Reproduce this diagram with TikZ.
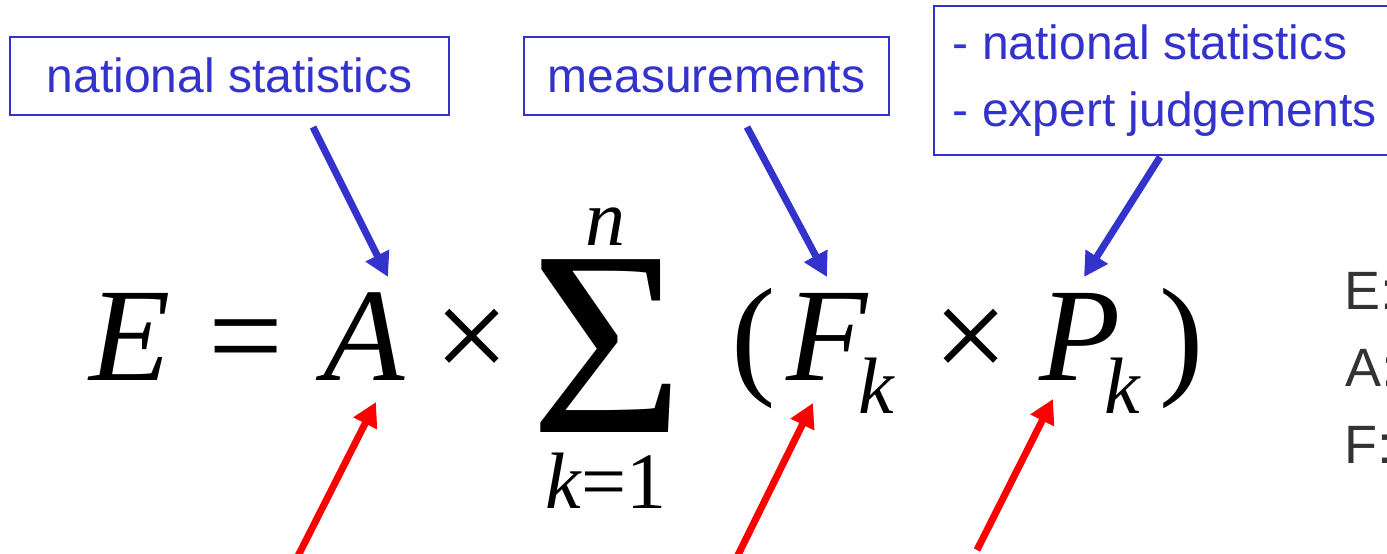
\documentclass[tikz,border=0pt]{standalone}
\usepackage{fontspec}
\setmainfont{Liberation Serif}
\newfontfamily\arialfont{Liberation Sans}
\usetikzlibrary{arrows.meta}
\definecolor{myblue}{HTML}{3333CC}
\definecolor{myred}{HTML}{FF0000}
\definecolor{mygray}{HTML}{333333}
\newcommand{\fsz}[1]{\fontsize{#1}{#1}\selectfont}
\tikzset{
  eq/.style={inner sep=0pt, font=\fsz{133}},
  sub/.style={inner sep=0pt, font=\fsz{80}},
  srcbox/.style={draw=myblue, line width=1.8pt, inner sep=0pt, text=myblue,
     font=\arialfont\fsz{48}, text height=34pt, text depth=0pt},
  bluearrow/.style={draw=myblue, line width=7pt, -{Triangle[length=24pt,width=25pt]}},
  redarrow/.style={draw=myred, line width=7pt, -{Triangle[length=24pt,width=25pt]}},
  legend/.style={inner sep=0pt, text=mygray, font=\arialfont\fsz{54}, anchor=base west}
}
\begin{document}
\begin{tikzpicture}[x=1pt,y=-1pt]
\useasboundingbox (0,0) rectangle (1387,554);
\clip (0,0) rectangle (1387,554);
% source boxes
\node[srcbox, anchor=north west, minimum width=439pt, minimum height=78pt] (box1) at (9,36) {national statistics};
\node[srcbox, anchor=north west, minimum width=365pt, minimum height=78pt] (box2) at (523,36) {measurements};
\node[draw=myblue, line width=1.8pt, inner sep=0pt, text=myblue, anchor=north west,
      minimum width=462pt, minimum height=149pt, align=left, font=\arialfont\fontsize{48}{67}\selectfont]
      (box3) at (933,5) {- national statistics\\- expert judgements};
% equation
\node[eq, anchor=base west] (E) at (89,380) {\itshape E};
\node[eq, anchor=base west] (eqs) at (208,380) {=};
\node[eq, anchor=base west] (A) at (323,380) {\itshape A};
\node[eq] (t1) at (472,345) {×};
\node[inner sep=0pt, font=\fsz{264}] (sig) at (607,346) {Σ};
\node[sub, anchor=base] (n) at (605,245) {\itshape n};
\node[sub, anchor=base] (k1) at (606,508) {{\itshape k}=1};
\node[eq, anchor=base west] (lp) at (731,380) {(};
\node[eq, anchor=base west] (F) at (786,380) {\itshape F};
\node[sub, anchor=base west] (kF) at (858,413) {\itshape k};
\node[eq] (t2) at (971,345) {×};
\node[eq, anchor=base west] (P) at (1039,380) {\itshape P};
\node[sub, anchor=base west] (kP) at (1104,413) {\itshape k};
\node[eq, anchor=base west] (rp) at (1159,380) {)};
% legend
\node[legend] (lE) at (1344,309) {E:};
\node[legend] (lA) at (1345,386) {A:};
\node[legend] (lF) at (1344,463) {F:};
% arrow end points
\coordinate (bAs) at (313,127);
\coordinate (bAt) at (388,277);
\coordinate (bFs) at (747,127);
\coordinate (bFt) at (827,277);
\coordinate (bPs) at (1160,157);
\coordinate (bPt) at (1084,277);
\coordinate (rAs) at (298,556);
\coordinate (rAt) at (376,402);
\coordinate (rFs) at (737,557);
\coordinate (rFt) at (813,403);
\coordinate (rPs) at (977,550);
\coordinate (rPt) at (1053,399);
\draw[bluearrow] (bAs) -- (bAt);
\draw[bluearrow] (bFs) -- (bFt);
\draw[bluearrow] (bPs) -- (bPt);
\draw[redarrow] (rAs) -- (rAt);
\draw[redarrow] (rFs) -- (rFt);
\draw[redarrow] (rPs) -- (rPt);
\end{tikzpicture}
\end{document}
